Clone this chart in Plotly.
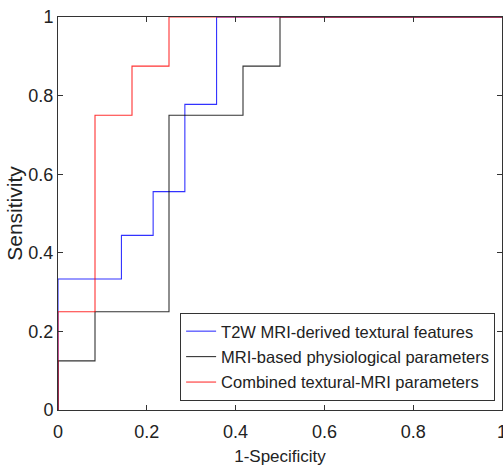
import plotly.graph_objects as go

# ROC step data (1-Specificity, Sensitivity)
t2w_x = [0, 0, 1/7, 1/7, 3/14, 3/14, 2/7, 2/7, 5/14, 5/14, 1]
t2w_y = [0, 1/3, 1/3, 4/9, 4/9, 5/9, 5/9, 7/9, 7/9, 1, 1]

phys_x = [0, 0, 1/12, 1/12, 0.25, 0.25, 5/12, 5/12, 0.5, 0.5, 1]
phys_y = [0, 0.125, 0.125, 0.25, 0.25, 0.75, 0.75, 0.875, 0.875, 1, 1]

comb_x = [0, 0, 1/12, 1/12, 1/6, 1/6, 0.25, 0.25, 1]
comb_y = [0, 0.25, 0.25, 0.75, 0.75, 0.875, 0.875, 1, 1]

names = ["T2W MRI-derived textural features",
         "MRI-based physiological parameters",
         "Combined textural-MRI parameters"]
colors = ["#0000ff", "#000000", "#ff0000"]
tick_vals = [0, 0.2, 0.4, 0.6, 0.8, 1]
tick_text = ["0", "0.2", "0.4", "0.6", "0.8", "1"]

fig = go.Figure()
for i, (xs, ys) in enumerate([(t2w_x, t2w_y), (phys_x, phys_y), (comb_x, comb_y)]):
    fig.add_trace(go.Scatter(x=xs, y=ys, mode="lines", name=names[i],
                             legendgroup=f"g{i}",
                             line=dict(color=colors[i], width=1.1),
                             opacity=0.8))

font = "Liberation Sans, Arial, sans-serif"
axis_common = dict(range=[0, 1], tickvals=tick_vals, ticktext=tick_text,
                   ticks="inside", ticklen=5, tickwidth=1, tickcolor="#333",
                   showline=True, linecolor="#333", linewidth=1, mirror="allticks",
                   showgrid=False, zeroline=False, automargin=False,
                   ticklabeloverflow="allow",
                   tickfont=dict(family=font, size=18, color="#222"))

fig.update_layout(
    width=503, height=467,
    margin=dict(l=58, r=1, t=17, b=57),
    paper_bgcolor="white", plot_bgcolor="white",
    font=dict(family=font, size=17, color="#222"),
    xaxis=dict(**axis_common, ticklabelstandoff=5,
               title=dict(text="1-Specificity", standoff=9,
                          font=dict(family=font, size=17, color="#222"))),
    yaxis=dict(**axis_common,
               title=dict(text="Sensitivity", standoff=0,
                          font=dict(family=font, size=21, color="#222"))),
    legend=dict(x=0.275, y=0.247, xanchor="left", yanchor="top",
                bgcolor="white", bordercolor="#333", borderwidth=1,
                font=dict(family=font, size=16.5, color="#222"),
                tracegroupgap=1),
    showlegend=True,
)

fig.write_html("out.html", config={"displayModeBar": False},
               post_script="document.body.style.margin='0';document.body.style.overflow='hidden';")
